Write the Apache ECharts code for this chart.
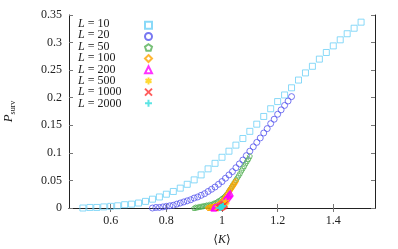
<!DOCTYPE html>
<html><head><meta charset="utf-8">
<script src="https://cdn.jsdelivr.net/npm/echarts@6/dist/echarts.min.js"></script>
<style>html,body{margin:0;padding:0;background:#fff}#c{width:398px;height:249px}</style>
</head><body><div id="c"></div>
<script>
var seriesNames = ['10','20','50','100','200','500','1000','2000'];
var colors = ['#6ccff6','#5555ee','#55b055','#ffa500','#ff00ff','#ffd000','#ff3333','#33dddd'];
var xTicks = [0.6, 0.8, 1.0, 1.2, 1.4];

var x10 = [0.5,0.525,0.55,0.575,0.6,0.625,0.65,0.675,0.7,0.725,0.75,0.775,0.8,0.825,0.85,0.875,0.9,0.925,0.95,0.975,1.0,1.025,1.05,1.075,1.1,1.125,1.15,1.175,1.2,1.225,1.25,1.275,1.3,1.325,1.35,1.375,1.4,1.425,1.45,1.475,1.5];
var y10 = [0.000,0.001,0.001,0.002,0.003,0.004,0.006,0.007,0.009,0.012,0.016,0.020,0.025,0.030,0.036,0.043,0.051,0.060,0.071,0.081,0.092,0.103,0.114,0.126,0.139,0.152,0.166,0.180,0.193,0.205,0.218,0.232,0.245,0.257,0.270,0.282,0.294,0.305,0.316,0.326,0.337];

var x20 = [0.75,0.7625,0.775,0.7875,0.8,0.8125,0.825,0.8375,0.85,0.8625,0.875,0.8875,0.9,0.9125,0.925,0.9375,0.95,0.9625,0.975,0.9875,1.0,1.0125,1.025,1.0375,1.05,1.0625,1.075,1.0875,1.1,1.1125,1.125,1.1375,1.15,1.1625,1.175,1.1875,1.2,1.2125,1.225,1.2375,1.25];
var y20 = [0.000,0.001,0.001,0.002,0.003,0.004,0.005,0.007,0.009,0.011,0.013,0.015,0.018,0.020,0.023,0.026,0.030,0.034,0.038,0.043,0.048,0.054,0.060,0.066,0.073,0.080,0.087,0.095,0.103,0.111,0.119,0.127,0.136,0.144,0.153,0.161,0.170,0.178,0.186,0.194,0.202];

var x50 = [0.9,0.905,0.91,0.915,0.92,0.925,0.93,0.935,0.94,0.945,0.95,0.955,0.96,0.965,0.97,0.975,0.98,0.985,0.99,0.995,1.0,1.005,1.01,1.015,1.02,1.025,1.03,1.035,1.04,1.045,1.05,1.055,1.06,1.065,1.07,1.075,1.08,1.085,1.09,1.095,1.1];
var y50 = [0.000,0.001,0.001,0.002,0.002,0.003,0.003,0.004,0.004,0.005,0.005,0.006,0.006,0.007,0.008,0.009,0.010,0.012,0.013,0.015,0.017,0.019,0.021,0.024,0.027,0.031,0.035,0.039,0.043,0.047,0.051,0.055,0.059,0.063,0.068,0.072,0.076,0.081,0.085,0.089,0.094];

var x100 = [0.95,0.9525,0.955,0.9575,0.96,0.9625,0.965,0.9675,0.97,0.9725,0.975,0.9775,0.98,0.9825,0.985,0.9875,0.99,0.9925,0.995,0.9975,1.0,1.0025,1.005,1.0075,1.01,1.0125,1.015,1.0175,1.02,1.0225,1.025,1.0275,1.03,1.0325,1.035,1.0375,1.04,1.0425,1.045,1.0475,1.05];
var y100 = [0.000,0.000,0.001,0.001,0.001,0.001,0.002,0.002,0.002,0.003,0.003,0.003,0.004,0.004,0.005,0.006,0.007,0.008,0.009,0.010,0.011,0.012,0.014,0.015,0.017,0.019,0.021,0.023,0.025,0.027,0.029,0.031,0.033,0.035,0.037,0.039,0.041,0.043,0.045,0.047,0.049];

var x200 = [0.97,0.9715,0.973,0.9745,0.976,0.9775,0.979,0.9805,0.982,0.9835,0.985,0.9865,0.988,0.9895,0.991,0.9925,0.994,0.9955,0.997,0.9985,1.0,1.0015,1.003,1.0045,1.006,1.0075,1.009,1.0105,1.012,1.0135,1.015,1.0165,1.018,1.0195,1.021,1.0225,1.024,1.0255,1.027,1.0285,1.03];
var y200 = [0.000,0.000,0.001,0.001,0.001,0.001,0.002,0.002,0.002,0.002,0.003,0.003,0.003,0.004,0.004,0.005,0.005,0.006,0.006,0.007,0.008,0.008,0.009,0.010,0.011,0.012,0.013,0.014,0.015,0.016,0.017,0.018,0.019,0.020,0.021,0.022,0.023,0.024,0.025,0.026,0.027];

var x500 = [0.985,0.9865,0.988,0.9895,0.991,0.9925,0.994,0.9955,0.997,0.9985,1.0,1.0015,1.003,1.0045,1.006,1.0075,1.009,1.0105,1.012,1.0135,1.015];
var y500 = [0.000,0.000,0.001,0.001,0.001,0.002,0.002,0.002,0.003,0.003,0.004,0.004,0.005,0.006,0.006,0.007,0.008,0.009,0.010,0.011,0.012];

var x1000 = [0.99,0.991,0.992,0.993,0.994,0.995,0.996,0.997,0.998,0.999,1.0,1.001,1.002,1.003,1.004,1.005,1.006,1.007,1.008,1.009,1.01];
var y1000 = [0.000,0.000,0.000,0.001,0.001,0.001,0.001,0.002,0.002,0.002,0.002,0.003,0.003,0.003,0.004,0.004,0.005,0.005,0.006,0.006,0.007];

var x2000 = [0.99,0.99075,0.9915,0.99225,0.993,0.99375,0.9945,0.99525,0.996,0.99675,0.9975,0.99825,0.999,0.99975,1.0005,1.00125,1.002,1.00275,1.0035,1.00425,1.005];
var y2000 = [0.000,0.000,0.000,0.000,0.001,0.001,0.001,0.001,0.001,0.001,0.002,0.002,0.002,0.002,0.002,0.003,0.003,0.003,0.003,0.004,0.004];

var xs = [x10,x20,x50,x100,x200,x500,x1000,x2000];
var ys = [y10,y20,y50,y100,y200,y500,y1000,y2000];
var symbols = [
  'rect',
  'circle',
  'path://M0,-10L9.51,-3.09L5.88,8.09L-5.88,8.09L-9.51,-3.09Z',
  'diamond',
  'triangle',
  'path://M0,-10L0,10M-8.66,-5L8.66,5M-8.66,5L8.66,-5',
  'path://M-10,-10L10,10M-10,10L10,-10',
  'path://M0,-10L0,10M-10,0L10,0'
];
var sizes = [6,6,5,6,6,7,6,6];
var widths = [1,1,1,1,1,0.8,1,1];

var FONT = '"Liberation Serif","DejaVu Serif",serif';
var TXT = '#222';

var series = seriesNames.map(function(n,i){
  var data = xs[i].map(function(x,j){ return [x, ys[i][j]]; });
  return {
    name: 'L = ' + n,
    type: 'scatter',
    data: data,
    symbol: symbols[i],
    symbolSize: sizes[i],
    color: colors[i],
    itemStyle: { color: 'rgba(0,0,0,0)', borderColor: colors[i], borderWidth: widths[i] },
    emphasis: { disabled: true },
    animation: false
  };
});

var LEG_TOP = 24.3, LEG_STEP = 11.4;
var legendTexts = seriesNames.map(function(n,i){
  return {
    type: 'text', left: 78, top: LEG_TOP + LEG_STEP*i - 6.5, silent: true,
    style: {
      text: '{i|L} = ' + n,
      fontFamily: FONT, fontSize: 12, fill: TXT,
      rich: { i: { fontStyle: 'italic', fontFamily: FONT, fontSize: 12, fill: TXT } }
    }
  };
});

var chart = echarts.init(document.getElementById('c'), null, {renderer:'canvas'});
var axisLineStyle = { color: '#222', width: 1 };
chart.setOption({
  animation: false,
  backgroundColor: '#fff',
  grid: { left: 69, right: 23, top: 15, bottom: 41, containLabel: false, outerBoundsMode: 'none' },
  legend: {
    orient: 'vertical',
    left: 144, top: LEG_TOP - 3.5,
    align: 'left',
    itemWidth: 7, itemHeight: 7,
    itemGap: LEG_STEP - 9.2,
    padding: 0,
    data: series.map(function(s){return s.name;}),
    formatter: function(){ return ''; },
    textStyle: { fontSize: 1, lineHeight: 1 }
  },
  graphic: legendTexts,
  xAxis: [{
    type: 'value', min: 0.45, max: 1.55,
    name: '{a|⟨}{i|K}{a|⟩}', nameLocation: 'middle', nameGap: 26,
    nameTextStyle: { fontFamily: FONT, fontSize: 12, color: TXT,
      rich: { i: { fontStyle: 'italic', fontFamily: FONT, fontSize: 12, color: TXT },
              a: { fontFamily: '"DejaVu Serif",serif', fontSize: 12, color: TXT } } },
    axisLine: { show: true, lineStyle: axisLineStyle },
    axisTick: { show: true, inside: true, length: 4, lineStyle: { color: '#777' }, customValues: xTicks },
    axisLabel: { customValues: xTicks, fontFamily: FONT, fontSize: 12, color: TXT, margin: 7,
      formatter: function(v){ return String(Math.round(v*10)/10); } },
    splitLine: { show: false }
  },{
    type: 'value', min: 0.45, max: 1.55, position: 'top',
    axisLine: { show: true, lineStyle: axisLineStyle },
    axisTick: { show: true, inside: true, length: 4, lineStyle: { color: '#777' }, customValues: xTicks },
    axisLabel: { show: false },
    splitLine: { show: false }
  }],
  yAxis: [{
    type: 'value', min: 0, max: 0.35, interval: 0.05,
    name: '{i|P}{s|surv}', nameLocation: 'middle', nameGap: 52, nameRotate: 90,
    nameTextStyle: { fontFamily: FONT, fontSize: 12, color: TXT,
      rich: { i: { fontStyle: 'italic', fontFamily: FONT, fontSize: 13, color: TXT, lineHeight: 16, verticalAlign: 'middle' },
              s: { fontFamily: FONT, fontSize: 8, color: TXT, lineHeight: 8, verticalAlign: 'bottom' } } },
    axisLine: { show: true, lineStyle: axisLineStyle },
    axisTick: { show: true, inside: true, length: 4, lineStyle: { color: '#777' } },
    axisLabel: { fontFamily: FONT, fontSize: 12, color: TXT, margin: 7 },
    splitLine: { show: false }
  },{
    type: 'value', min: 0, max: 0.35, interval: 0.05, position: 'right',
    axisLine: { show: true, lineStyle: axisLineStyle },
    axisTick: { show: true, inside: true, length: 4, lineStyle: { color: '#777' } },
    axisLabel: { show: false },
    splitLine: { show: false }
  }],
  series: series
});
</script>
</body></html>
